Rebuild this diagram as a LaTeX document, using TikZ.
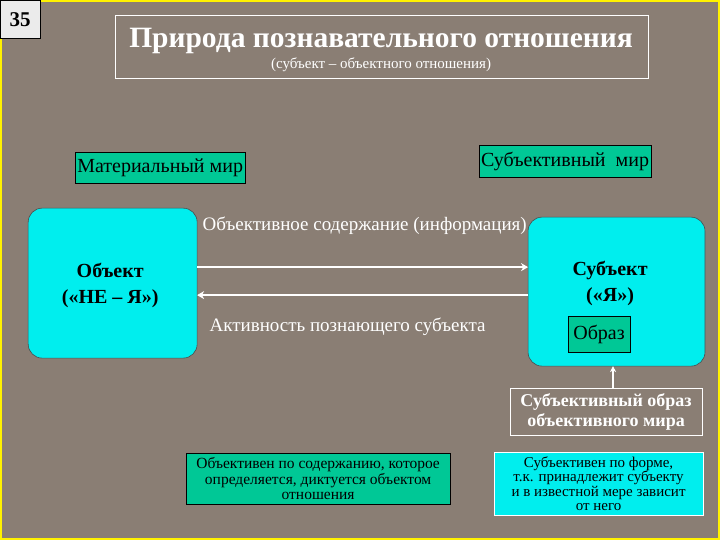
\documentclass[tikz,border=0pt]{standalone}
\usepackage{fontspec}
\setmainfont{Liberation Serif}
\begin{document}
\begin{tikzpicture}[x=1pt,y=-1pt,
  teal/.style={draw=black,fill=tealg,line width=0.8pt,inner sep=2pt},
  big/.style={draw=black!70,fill=cyanb,rounded corners=14pt,line width=0.6pt},
  wlabel/.style={text=white,font=\fontsize{19}{21}\selectfont},
  warrow/.style={draw=white,line width=2.5pt,-{Stealth[length=7pt,width=8pt]}}]
\definecolor{bg}{RGB}{138,126,116}
\definecolor{tealg}{RGB}{0,200,150}
\definecolor{cyanb}{RGB}{0,238,238}
\usetikzlibrary{arrows.meta}
\fill[bg] (0,0) rectangle (720,540);
\draw[yellow,line width=2pt] (1,1) rectangle (719,539);
\node[draw=black,fill=black!8,minimum width=40pt,minimum height=38pt,font=\bfseries\fontsize{21}{23}\selectfont] (num) at (20,19) {35};
\node[draw=white,line width=0.5pt,minimum width=533pt,minimum height=63pt] (tbox) at (381.5,46.5) {};
\node[text=white,font=\bfseries\fontsize{29.5}{31}\selectfont] (title) at (381,41) {Природа познавательного отношения};
\node[text=white,font=\fontsize{15}{17}\selectfont] (sub) at (381,65) {(субъект – объектного отношения)};
\node[teal,minimum width=170pt,minimum height=31pt,font=\fontsize{20}{22}\selectfont] (mat) at (160,167.5) {Материальный мир};
\node[teal,minimum width=170pt,minimum height=32pt,font=\fontsize{20}{22}\selectfont] (subw) at (565,161) {Субъективный\ \ мир};
\node[big,minimum width=169pt,minimum height=150pt] (obj) at (112.5,283) {};
\node[font=\bfseries\fontsize{20}{26}\selectfont,align=center] at (110,285) {Объект\\(«НЕ – Я»)};
\node[big,minimum width=177pt,minimum height=149pt] (subj) at (616.5,291.5) {};
\node[font=\bfseries\fontsize{20}{26}\selectfont,align=center] at (610,283) {Субъект\\(«Я»)};
\node[teal,minimum width=62pt,minimum height=36pt,font=\fontsize{20}{22}\selectfont] (obr) at (599,334) {Образ};
\coordinate (a1s) at (197,267); \coordinate (a1e) at (528,267);
\coordinate (a2s) at (528,295); \coordinate (a2e) at (197,295);
\draw[warrow] (a1s) -- (a1e);
\draw[warrow] (a2s) -- (a2e);
\node[wlabel,anchor=west] (l1) at (199,226) {Объективное содержание (информация)};
\node[wlabel,anchor=west] (l2) at (206,327) {Активность познающего субъекта};
\node[draw=white,line width=0.5pt,minimum width=192pt,minimum height=47pt,text=white,align=center,font=\bfseries\fontsize{18}{20}\selectfont] (img) at (606,411.5) {Субъективный образ\\объективного мира};
\draw[white,line width=1.2pt,-{Stealth[length=6pt,width=6pt]}] (img.north -| 613,0) -- (613,366);
\node[teal,minimum width=264pt,minimum height=51pt,inner sep=1pt,align=center,font=\fontsize{15.5}{15.5}\selectfont] (lb) at (318,478.5) {Объективен по содержанию, которое\\определяется, диктуется объектом\\отношения};
\node[draw=white,fill=cyanb,line width=0.6pt,minimum width=209pt,minimum height=63pt,inner sep=1pt,align=center,font=\fontsize{15}{14.5}\selectfont] (rb) at (598.5,483.5) {Субъективен по форме,\\т.к. принадлежит субъекту\\и в известной мере зависит\\от него};
\end{tikzpicture}
\end{document}
